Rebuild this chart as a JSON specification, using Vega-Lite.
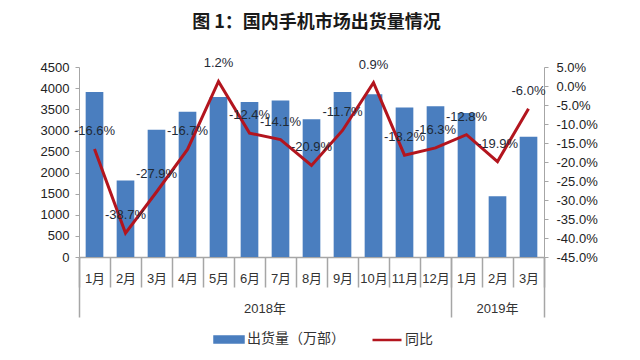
{
  "$schema": "https://vega.github.io/schema/vega-lite/v6.json",
  "autosize": {"type": "none"},
  "width": 465,
  "height": 190,
  "padding": {"left": 79, "top": 67, "right": 96, "bottom": 103},
  "background": "white",
  "title": {
    "text": "图 1：国内手机市场出货量情况",
    "font": "Noto Sans CJK SC",
    "fontSize": 18,
    "fontWeight": "bold",
    "color": "#1a1a1a",
    "anchor": "middle",
    "dx": 5,
    "offset": 25
  },
  "config": {
    "view": {"stroke": null},
    "axis": {"labelFont": "Liberation Sans, Noto Sans CJK SC", "labelColor": "#333333", "domainColor": "#a6a6a6", "tickColor": "#a6a6a6", "grid": false}
  },
  "data": {
    "values": [
      {"key": "2018|1月", "ship": 3910, "yoy": -16.6, "lab": "-16.6%"},
      {"key": "2018|2月", "ship": 1809, "yoy": -38.7, "lab": "-38.7%"},
      {"key": "2018|3月", "ship": 3013, "yoy": -27.9, "lab": "-27.9%"},
      {"key": "2018|4月", "ship": 3438, "yoy": -16.7, "lab": "-16.7%"},
      {"key": "2018|5月", "ship": 3792, "yoy": 1.2, "lab": "1.2%"},
      {"key": "2018|6月", "ship": 3674, "yoy": -12.4, "lab": "-12.4%"},
      {"key": "2018|7月", "ship": 3705, "yoy": -14.1, "lab": "-14.1%"},
      {"key": "2018|8月", "ship": 3265, "yoy": -20.9, "lab": "-20.9%"},
      {"key": "2018|9月", "ship": 3910, "yoy": -11.7, "lab": "-11.7%"},
      {"key": "2018|10月", "ship": 3855, "yoy": 0.9, "lab": "0.9%"},
      {"key": "2018|11月", "ship": 3540, "yoy": -18.2, "lab": "-18.2%"},
      {"key": "2018|12月", "ship": 3572, "yoy": -16.3, "lab": "-16.3%"},
      {"key": "2019|1月", "ship": 3410, "yoy": -12.8, "lab": "-12.8%"},
      {"key": "2019|2月", "ship": 1440, "yoy": -19.9, "lab": "-19.9%"},
      {"key": "2019|3月", "ship": 2848, "yoy": -6.0, "lab": "-6.0%"}
    ]
  },
  "layer": [
    {
      "mark": {"type": "bar", "width": {"band": 0.57}},
      "encoding": {
        "x": {
          "field": "key", "type": "nominal", "sort": null,
          "scale": {"paddingInner": 0, "paddingOuter": 0},
          "axis": {
            "title": null,
            "orient": "bottom",
            "labelAngle": 0,
            "labelExpr": "split(datum.value, '|')[1]",
            "labelFontSize": 13,
            "labelPadding": -15,
            "tickBand": "extent",
            "tickSize": 30,
            "tickWidth": 1.5,
            "domainWidth": 1.5
          }
        },
        "y": {
          "field": "ship", "type": "quantitative",
          "scale": {"domain": [0, 4500]},
          "axis": {"title": null, "format": "d", "values": [0,500,1000,1500,2000,2500,3000,3500,4000,4500], "tickSize": 4, "labelPadding": 6, "labelFontSize": 13, "labelColor": "#222"}
        },
        "color": {
          "datum": "出货量（万部）",
          "type": "nominal",
          "scale": {"domain": ["出货量（万部）", "同比"], "range": ["#4A7EBF", "#B3151E"]},
          "legend": {
            "title": null,
            "orient": "none",
            "legendX": 134,
            "legendY": 256,
            "direction": "horizontal",
            "columns": 2,
            "columnPadding": 22,
            "labelFont": "Noto Sans CJK SC",
            "labelFontSize": 14,
            "labelColor": "#333",
            "labelOffset": 2,
            "symbolSize": 841,
            "encode": {
              "symbols": {
                "update": {
                  "shape": {"signal": "datum.label === '同比' ? 'M-1,0H1' : 'M-1,-0.21H1V0.21H-1Z'"},
                  "fill": {"signal": "datum.label === '同比' ? 'transparent' : '#4A7EBF'"},
                  "stroke": {"signal": "datum.label === '同比' ? '#B3151E' : 'transparent'"},
                  "strokeWidth": {"value": 2.5},
                  "opacity": {"value": 1}
                }
              }
            }
          }
        }
      }
    },
    {
      "mark": {"type": "line", "strokeWidth": 3, "strokeJoin": "miter"},
      "encoding": {
        "x": {
          "field": "key", "type": "nominal", "sort": null,
          "axis": {
            "title": null,
            "orient": "bottom",
            "domain": false,
            "values": ["2018|1月", "2019|1月"],
            "bandPosition": 0,
            "tickExtra": false,
            "tickSize": 60,
            "tickWidth": 1.5,
            "labelAngle": 0,
            "labelFontSize": 13,
            "labelPadding": -15,
            "labelExpr": "datum.value === '2018|1月' ? '2018年' : '2019年'",
            "labelOffset": {"condition": {"test": "datum.value === '2018|1月'", "value": 170.5}, "value": 31}
          }
        },
        "y": {
          "field": "yoy", "type": "quantitative",
          "scale": {"domain": [-45, 5]},
          "axis": {
            "title": null, "orient": "right",
            "values": [-45,-40,-35,-30,-25,-20,-15,-10,-5,0,5],
            "labelExpr": "replace(format(datum.value, '.1f'), '−', '-') + '%'",
            "tickSize": 4, "labelPadding": 8, "labelFontSize": 13, "labelColor": "#222"
          }
        },
        "color": {"datum": "同比", "type": "nominal"}
      }
    },
    {
      "mark": {"type": "text", "dy": -18, "fontSize": 13, "font": "Liberation Sans", "color": "#1f2a36"},
      "encoding": {
        "x": {
          "field": "key", "type": "nominal", "sort": null,
          "axis": {
            "title": null,
            "orient": "bottom",
            "domain": false,
            "labels": false,
            "values": ["2019|3月"],
            "bandPosition": 1,
            "tickExtra": false,
            "tickSize": 60,
            "tickWidth": 1.5
          }
        },
        "y": {
          "field": "yoy", "type": "quantitative",
          "scale": {"domain": [-45, 5]},
          "axis": null
        },
        "text": {"field": "lab", "type": "nominal"}
      }
    }
  ],
  "resolve": {"scale": {"y": "independent"}, "axis": {"x": "independent"}}
}
